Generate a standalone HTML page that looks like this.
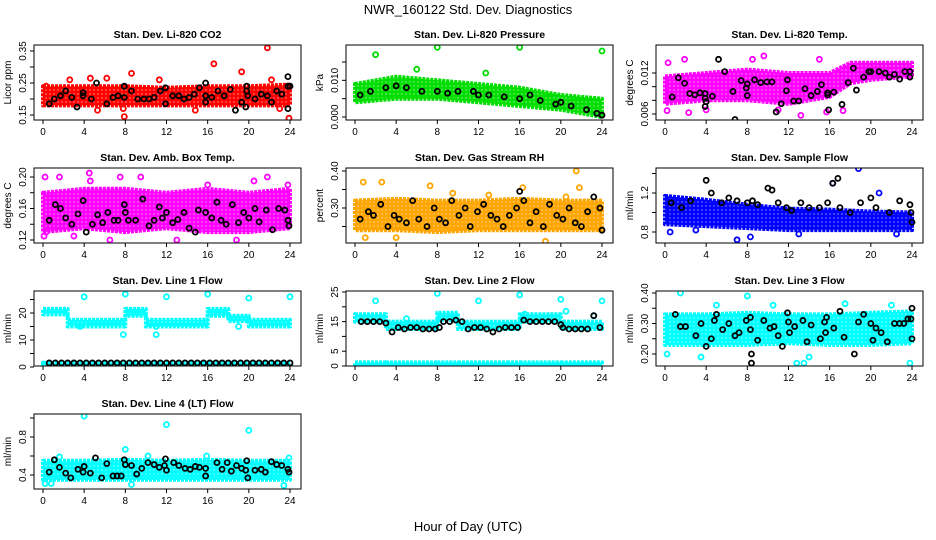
<!DOCTYPE html>
<html><head><meta charset="utf-8"><title>NWR_160122 Std. Dev. Diagnostics</title>
<style>
html,body{margin:0;padding:0;background:#fff;}
svg{display:block;font-family:"Liberation Sans",Arial,sans-serif;}
</style></head>
<body>
<svg id="chart" width="936" height="540" viewBox="0 0 936 540" xmlns="http://www.w3.org/2000/svg">
<rect x="0" y="0" width="936" height="540" fill="#fff"/>
<text x="468" y="14" text-anchor="middle" font-size="13">NWR_160122 Std. Dev. Diagnostics</text>
<text x="468" y="531" text-anchor="middle" font-size="13">Hour of Day (UTC)</text>
</svg>
<script>
const xTicks = [0,4,8,12,16,20,24];

// Panel 1: CO2
const p1BandHr = [0,4,8,12,16,20,24];
const p1BandLo = [0.18,0.18,0.18,0.18,0.18,0.18,0.18];
const p1BandHi = [0.24,0.24,0.24,0.235,0.24,0.24,0.245];
const p1Out = [[0.3,0.24],[2.6,0.26],[4.6,0.265],[6.2,0.265],[5.3,0.165],[7.9,0.145],[8.6,0.28],[16.6,0.31],[19.3,0.285],[21.8,0.36],[22.2,0.26],[23.9,0.14],[14.8,0.165],[23,0.17],[11.3,0.26],[7.8,0.17]];
const p1Blk = [[0.6,0.185],[1.1,0.2],[1.7,0.21],[2.2,0.225],[2.8,0.205],[3.3,0.175],[3.9,0.22],[3.9,0.21],[4.7,0.2],[5.2,0.25],[6.2,0.185],[6.8,0.205],[7.3,0.21],[7.9,0.24],[7.9,0.205],[8.6,0.225],[9.2,0.2],[9.8,0.2],[10.3,0.2],[10.8,0.205],[11.4,0.225],[11.9,0.185],[11.9,0.235],[12.6,0.21],[13.2,0.21],[13.7,0.2],[14.2,0.205],[14.7,0.215],[15.2,0.235],[15.8,0.25],[15.8,0.19],[15.8,0.21],[16.4,0.205],[17,0.225],[17.6,0.21],[18.2,0.23],[18.7,0.165],[19.3,0.19],[19.7,0.175],[19.8,0.225],[19.8,0.24],[19.9,0.21],[20.6,0.2],[21.2,0.215],[21.8,0.21],[22.2,0.19],[22.7,0.225],[23.2,0.215],[23.8,0.27],[23.8,0.24],[23.8,0.17],[24,0.24]];
const p1Ticks = [0.15,0.2,0.25,0.3,0.35];
const p1Labels = ["0.15","","0.25","","0.35"];

// Panel 2: Pressure
const p2BandHr = [0,4,8,12,16,20,24];
const p2BandLo = [0.004,0.005,0.005,0.004,0.003,0.002,0.0];
const p2BandHi = [0.009,0.011,0.010,0.009,0.008,0.006,0.005];
const p2Out = [[2,0.017],[8,0.019],[16,0.019],[24,0.018],[6,0.013],[12.7,0.012]];
const p2Blk = [[0.5,0.006],[1.5,0.007],[3,0.008],[4,0.0085],[5,0.008],[6.5,0.007],[8,0.007],[9,0.0065],[10,0.007],[11.5,0.007],[12,0.006],[13,0.006],[14.5,0.0055],[16,0.005],[17,0.006],[18,0.0045],[19.5,0.0035],[20,0.004],[21,0.003],[22.5,0.002],[23.5,0.001],[24,0.0005]];
const p2Ticks = [0,0.005,0.01,0.015];
const p2Labels = ["0.000","","0.010",""];

// Panel 3: Li-820 Temp
const p3BandHr = [0,4,8,12,16,18,20,24];
const p3BandLo = [0.0075,0.008,0.008,0.0075,0.0085,0.0105,0.011,0.0115];
const p3BandHi = [0.0115,0.012,0.0125,0.012,0.012,0.0135,0.0135,0.0135];
const p3Out = [[0.3,0.0135],[0.2,0.0065],[1.9,0.014],[9.6,0.0145],[15,0.014],[13.2,0.0058],[15.7,0.0063],[8.5,0.014],[4,0.0066],[17.3,0.0065],[2.3,0.0062],[11,0.0066]];
const p3Blk = [[0.7,0.0085],[1.3,0.0113],[1.9,0.0105],[2.4,0.009],[2.9,0.0088],[3.4,0.0091],[3.9,0.009],[3.9,0.0083],[4,0.0078],[3.9,0.0071],[4.6,0.0086],[5.2,0.014],[5.8,0.0122],[6.6,0.0093],[6.8,0.0052],[7.4,0.0109],[7.9,0.0098],[8,0.0104],[8,0.0087],[8.7,0.011],[9.3,0.0106],[9.9,0.0107],[10.4,0.0107],[10.8,0.0063],[11.3,0.0075],[11.8,0.0094],[11.9,0.011],[12.5,0.0079],[13,0.0079],[13.6,0.0097],[14.2,0.0087],[14.8,0.0093],[15.2,0.0103],[15.8,0.0091],[15.8,0.0088],[15.9,0.0066],[16.4,0.0092],[17.2,0.0074],[17.8,0.0106],[18.3,0.0127],[18.6,0.0095],[19.3,0.0114],[19.8,0.0122],[20,0.0122],[20.8,0.0122],[21.4,0.012],[21.8,0.0114],[22.3,0.0118],[22.8,0.0111],[23.3,0.0122],[23.8,0.0122],[23.8,0.0114]];
const p3Ticks = [0.006,0.008,0.01,0.012];
const p3Labels = ["0.006","","","0.012"];

// Panel 4: Amb Box Temp
const p4BandHr = [0,4,8,12,16,20,24];
const p4BandLo = [0.13,0.135,0.13,0.135,0.13,0.13,0.135];
const p4BandHi = [0.18,0.185,0.185,0.18,0.185,0.18,0.185];
const p4Out = [[0.2,0.2],[0.1,0.125],[0.3,0.13],[1.6,0.2],[3,0.125],[4.6,0.195],[4.5,0.205],[7.5,0.2],[11.7,0.22],[9.5,0.2],[18.8,0.12],[20.5,0.195],[21.8,0.2],[23.8,0.19],[16,0.19],[6.5,0.12],[13,0.12]];
const p4Blk = [[0.6,0.145],[1.2,0.165],[1.7,0.16],[2.2,0.148],[2.8,0.14],[3.4,0.153],[3.9,0.17],[4.2,0.13],[4.8,0.14],[5.3,0.152],[5.8,0.142],[6.3,0.155],[6.9,0.145],[7.3,0.145],[7.9,0.165],[8,0.155],[8.3,0.145],[9,0.145],[9.7,0.172],[10.3,0.138],[10.8,0.145],[11.3,0.162],[11.6,0.148],[12,0.155],[12.6,0.142],[13.1,0.146],[13.7,0.155],[14.2,0.135],[14.8,0.13],[15.1,0.158],[15.8,0.155],[16.4,0.148],[16.9,0.168],[17.3,0.145],[17.8,0.14],[18.4,0.165],[19,0.142],[19.5,0.155],[20,0.148],[20.6,0.16],[21,0.143],[21.7,0.158],[22.3,0.133],[22.9,0.16],[23.5,0.158],[23.8,0.145],[23.9,0.138]];
const p4Ticks = [0.12,0.14,0.16,0.18,0.2];
const p4Labels = ["0.12","","0.16","","0.20"];

// Panel 5: Gas Stream RH
const p5BandHr = [0,4,8,12,16,20,24];
const p5BandLo = [0.24,0.24,0.235,0.24,0.24,0.24,0.24];
const p5BandHi = [0.32,0.325,0.32,0.32,0.325,0.32,0.32];
const p5Out = [[0.8,0.37],[2.6,0.37],[7.3,0.36],[16.3,0.355],[18.5,0.21],[21.5,0.40],[21.8,0.355],[20.5,0.33],[1,0.22],[4,0.22],[9.5,0.34],[13,0.335]];
const p5Blk = [[0.5,0.27],[1.3,0.29],[1.8,0.28],[2.5,0.31],[3.2,0.25],[3.8,0.28],[4.3,0.27],[5,0.26],[5.6,0.32],[6.2,0.27],[7,0.25],[7.7,0.3],[8.2,0.27],[8.8,0.26],[9.4,0.32],[10.1,0.28],[10.7,0.3],[11.2,0.25],[11.9,0.29],[12.5,0.31],[13.2,0.28],[13.8,0.27],[14.4,0.25],[15,0.28],[15.7,0.3],[16,0.345],[16.4,0.32],[17,0.26],[17.6,0.29],[18.3,0.25],[18.9,0.31],[19.6,0.28],[20.2,0.27],[20.8,0.3],[21.4,0.26],[22,0.25],[22.6,0.29],[23.2,0.33],[23.8,0.3],[24,0.24]];
const p5Ticks = [0.2,0.25,0.3,0.35,0.4];
const p5Labels = ["0.20","","0.30","","0.40"];

// Panel 6: Sample Flow
const p6BandHr = [0,4,8,12,16,20,24];
const p6BandLo = [0.88,0.86,0.84,0.82,0.82,0.82,0.82];
const p6BandHi = [1.17,1.13,1.08,1.04,1.03,1.01,1.0];
const p6Out = [[3,0.82],[8.3,0.75],[7,0.72],[18.8,1.45],[16.3,1.3],[20.8,1.2],[0.5,0.8],[13,0.78],[22.5,0.78]];
const p6Blk = [[0.6,1.1],[1.6,1.05],[2.5,1.12],[4,1.33],[4.5,1.2],[5.5,1.1],[6.2,1.15],[7,1.12],[8,1.1],[8.5,1.12],[9,1.08],[10,1.25],[10.4,1.23],[11,1.1],[11.8,1.05],[12.3,1.02],[13.2,1.1],[14,1.05],[15,1.05],[15.8,1.1],[16.3,1.3],[16.8,1.35],[17,1.05],[18,1.0],[19,1.1],[20,1.15],[20.5,1.05],[21.8,1.0],[22.8,1.12],[23.8,1.08],[23.9,1.0],[24,0.9]];
const p6Ticks = [0.8,1.0,1.2,1.4];
const p6Labels = ["0.8","","1.2",""];

// Panel 7: Line 1 Flow
const p7BandHr = [0,2.4,2.4,8,8,10,10,16,16,18,18,20,20,24];
const p7BandLo = [19.5,19.5,15,15,19,19,15,15,19,19,17,17,15,15];
const p7BandHi = [21.5,21.5,17.5,17.5,21.5,21.5,17.5,17.5,21.5,21.5,19,19,17.5,17.5];
const p7ZeroLo = [0.8,0.8,0.8,0.8,0.8,0.8,0.8,0.8,0.8,0.8,0.8,0.8,0.8,0.8];
const p7ZeroHi = [1.6,1.6,1.6,1.6,1.6,1.6,1.6,1.6,1.6,1.6,1.6,1.6,1.6,1.6];
const p7Out = [[4,26],[8,27],[12,26],[16,27],[20,25.5],[24,26],[7.8,12],[11,12],[11,15],[3.6,15],[19,15]];
const p7Blk = [[0.6,1.5],[1.2,1.5],[1.8,1.5],[2.4,1.5],[3,1.5],[3.6,1.5],[4.2,1.5],[4.8,1.5],[5.4,1.5],[6,1.5],[6.6,1.5],[7.2,1.5],[7.8,1.5],[8.4,1.5],[9,1.5],[9.6,1.5],[10.2,1.5],[10.8,1.5],[11.4,1.5],[12,1.5],[12.6,1.5],[13.2,1.5],[13.8,1.5],[14.4,1.5],[15,1.5],[15.6,1.5],[16.2,1.5],[16.8,1.5],[17.4,1.5],[18,1.5],[18.6,1.5],[19.2,1.5],[19.8,1.5],[20.4,1.5],[21,1.5],[21.6,1.5],[22.2,1.5],[22.8,1.5],[23.4,1.5],[24,1.5]];
const p7Ticks = [0,5,10,15,20,25];
const p7Labels = ["0","","10","","20",""];

// Panel 8: Line 2 Flow
const p8BandHr = [0,3,3,8,8,10,10,16,16,20,20,24];
const p8BandLo = [15,15,12.5,12.5,15.5,15.5,12.5,12.5,15,15,12.5,12.5];
const p8BandHi = [17.5,17.5,15,15,18,18,15,15,17.5,17.5,15,15];
const p8ZeroLo = [0.2,0.2,0.2,0.2,0.2,0.2,0.2,0.2,0.2,0.2,0.2,0.2];
const p8ZeroHi = [1.2,1.2,1.2,1.2,1.2,1.2,1.2,1.2,1.2,1.2,1.2,1.2];
const p8Out = [[2,22],[8,24.5],[12,22],[16,24],[20,22.5],[24,22],[23.2,17],[20.5,18.5],[16.5,17.5],[5,16]];
const p8Blk = [[0.6,15],[1.2,15],[1.8,15],[2.4,15],[3,14.5],[3.6,11.5],[4.2,13],[4.8,12.5],[5.4,13],[6,13],[6.6,12.5],[7.2,12.5],[7.8,12.5],[8.2,13],[8.6,15],[9.2,15],[9.8,15.5],[10.4,15],[11,12.5],[11.6,13],[12.2,13],[12.8,12.5],[13.4,11.5],[14,12.5],[14.6,13],[15.2,13],[15.8,13],[16.4,15.5],[17,15],[17.6,15],[18.2,15],[18.8,15],[19.4,15],[20,14],[20.2,13],[20.8,12.5],[21.4,12.5],[22,12.5],[22.6,12.5],[23.2,17],[23.8,13]];
const p8Ticks = [0,5,10,15,20,25];
const p8Labels = ["0","5","","15","","25"];

// Panel 9: Line 3 Flow
const p9BandHr = [0,4,8,12,16,20,24];
const p9BandLo = [0.23,0.23,0.23,0.235,0.23,0.23,0.235];
const p9BandHi = [0.33,0.33,0.335,0.33,0.33,0.335,0.34];
const p9Out = [[1.5,0.40],[8,0.39],[13.5,0.17],[12.8,0.17],[23.8,0.17],[0.2,0.2],[3.5,0.19],[14,0.19],[5,0.36],[10.5,0.36],[17.5,0.365],[22,0.36]];
const p9Blk = [[1,0.33],[1.5,0.29],[2,0.29],[3,0.26],[3.5,0.3],[4,0.225],[4.5,0.25],[4.8,0.31],[5,0.33],[5.6,0.28],[6.2,0.3],[6.8,0.26],[7.2,0.27],[7.9,0.31],[8.3,0.32],[8.3,0.28],[8.4,0.2],[8.4,0.17],[9,0.245],[9.6,0.31],[10.2,0.285],[10.6,0.29],[11,0.26],[11.4,0.225],[11.9,0.335],[12,0.305],[12.1,0.27],[12.6,0.29],[13.4,0.31],[13.8,0.24],[14.2,0.295],[15.1,0.25],[15.5,0.305],[15.6,0.27],[15.7,0.32],[16.4,0.285],[17,0.34],[17.4,0.255],[18.4,0.2],[18.8,0.305],[19.3,0.33],[20,0.3],[20.2,0.245],[20.5,0.285],[21,0.27],[21.6,0.24],[22.3,0.3],[22.8,0.3],[23.2,0.3],[23.6,0.315],[23.9,0.315],[24,0.35],[24,0.25]];
const p9Ticks = [0.2,0.25,0.3,0.35,0.4];
const p9Labels = ["0.20","","0.30","","0.40"];

// Panel 10: Line 4 Flow
const p10BandHr = [0,4,8,12,16,20,24];
const p10BandLo = [0.35,0.35,0.35,0.35,0.35,0.35,0.35];
const p10BandHi = [0.55,0.55,0.56,0.55,0.56,0.55,0.55];
const p10Out = [[4,1.02],[12,0.93],[20,0.87],[8,0.67],[0.2,0.31],[23.4,0.29],[8.6,0.3],[1.6,0.59],[10.2,0.6],[15.9,0.6],[23.9,0.58],[0.8,0.31]];
const p10Blk = [[0.6,0.43],[1.1,0.56],[1.6,0.48],[2.2,0.42],[2.7,0.37],[3.4,0.46],[3.9,0.43],[4,0.49],[4.6,0.42],[5.1,0.58],[5.7,0.37],[6.2,0.52],[6.8,0.39],[7.2,0.39],[7.6,0.39],[7.9,0.56],[8,0.51],[8.6,0.5],[9.1,0.41],[9.6,0.47],[10.2,0.53],[10.8,0.51],[11.3,0.48],[11.8,0.5],[11.9,0.57],[12,0.45],[12.7,0.53],[13.2,0.5],[13.8,0.47],[14.3,0.46],[14.8,0.49],[15.2,0.48],[15.8,0.47],[15.8,0.39],[16.9,0.53],[17.4,0.46],[17.9,0.53],[18.3,0.44],[18.8,0.5],[19.3,0.47],[19.7,0.45],[19.8,0.55],[19.9,0.37],[20.6,0.45],[21.2,0.46],[21.6,0.43],[22.2,0.54],[22.7,0.51],[23.2,0.5],[23.8,0.46],[23.9,0.43]];
const p10Ticks = [0.4,0.6,0.8,1.0];
const p10Labels = ["0.4","","0.8",""];

const NS = "http://www.w3.org/2000/svg";
const svg = document.getElementById('chart');

function mk(tag, attrs, parent){
  const e = document.createElementNS(NS, tag);
  for (const k in attrs) e.setAttribute(k, attrs[k]);
  (parent||svg).appendChild(e);
  return e;
}

function drawPanel(p){
  const g = mk('g', {});
  
  
  const L = p.L, T = p.T, W = 267, H = 75, B = T + H;
  const xs = h => L + 9 + h * (247/24);
  const ys = v => p.y1 + (v - p.v1) * (p.y2 - p.y1) / (p.v2 - p.v1);
  const clip = 'clip-' + p.name;
  const cp = mk('clipPath', {id: clip}, g);
  mk('rect', {x: L, y: T, width: W, height: H}, cp);
  const pat = mk('pattern', {id: 'pat-' + p.name, width: 4, height: 4, patternUnits: 'userSpaceOnUse'}, g);
  mk('rect', {x: 0, y: 0, width: 4, height: 4, fill: p.color}, pat);
  mk('circle', {cx: 2, cy: 2, r: 0.7, fill: '#fff', 'fill-opacity': 0.6}, pat);
  const data = mk('g', {'clip-path': 'url(#' + clip + ')'}, g);
  function band(hr, lo, hi, nm){
    let d = '';
    for (let i = 0; i < hr.length; i++) d += (i ? 'L' : 'M') + xs(hr[i]).toFixed(1) + ',' + ys(hi[i]).toFixed(1);
    for (let i = hr.length - 1; i >= 0; i--) d += 'L' + xs(hr[i]).toFixed(1) + ',' + ys(lo[i]).toFixed(1);
    const b = mk('path', {d: d + 'Z', fill: 'url(#pat-' + p.name + ')', stroke: p.color, 'stroke-width': 4, 'stroke-linejoin': 'round', 'stroke-dasharray': '3 1'}, data);
    
    
  }
  band(p.bandHr, p.bandLo, p.bandHi, 'point-cloud');
  if (p.zeroLo) band(p.bandHr, p.zeroLo, p.zeroHi, 'zero-point-cloud');
  p.out.forEach(pt => {
    const c = mk('circle', {cx: xs(pt[0]), cy: ys(pt[1]), r: 2.5, fill: 'none', stroke: p.color, 'stroke-width': 1.8}, data);
    
    
  });
  p.blk.forEach(pt => {
    const c = mk('circle', {cx: xs(pt[0]), cy: ys(pt[1]), r: 2.5, fill: 'none', stroke: '#000', 'stroke-width': 1.8}, data);
    
    
  });
  const box = mk('rect', {x: L, y: T, width: W, height: H, fill: 'none', stroke: '#000', 'stroke-width': 1}, g);
  
  
  const t = mk('text', {x: L + W/2, y: T - 7, 'text-anchor': 'middle', 'font-size': 10.5, 'font-weight': 'bold'}, g);
  t.textContent = p.title;
  
  
  xTicks.forEach(h => {
    const x = xs(h);
    mk('line', {x1: x, x2: x, y1: B, y2: B + 4, stroke: '#000'}, g);
    const tl = mk('text', {x: x, y: B + 15, 'text-anchor': 'middle', 'font-size': 10}, g);
    tl.textContent = h;
    
    
  });
  p.ticks.forEach((v, i) => {
    const y = ys(v);
    if (y < T - 1 || y > B + 1) return;
    mk('line', {x1: L - 4, x2: L, y1: y, y2: y, stroke: '#000'}, g);
    if (p.labels[i]) {
      const tl = mk('text', {x: L - 8, y: y, 'text-anchor': 'middle', 'font-size': 10, transform: 'rotate(-90 ' + (L - 8) + ' ' + y + ')'}, g);
      tl.textContent = p.labels[i];
      
      
    }
  });
  const yl = mk('text', {x: L - 23, y: T + H/2, 'text-anchor': 'middle', 'font-size': 10, transform: 'rotate(-90 ' + (L - 23) + ' ' + (T + H/2) + ')'}, g);
  yl.textContent = p.ylab;
  
  
}

const panels = [
  {name:'panel-co2', title:'Stan. Dev. Li-820 CO2', ylab:'Licor ppm', L:34, T:45, v1:0.15, y1:115, v2:0.35, y2:51, color:'#ff0000', bandHr:p1BandHr, bandLo:p1BandLo, bandHi:p1BandHi, out:p1Out, blk:p1Blk, ticks:p1Ticks, labels:p1Labels},
  {name:'panel-pressure', title:'Stan. Dev. Li-820 Pressure', ylab:'kPa', L:346, T:45, v1:0, y1:117, v2:0.015, y2:62, color:'#00dd00', bandHr:p2BandHr, bandLo:p2BandLo, bandHi:p2BandHi, out:p2Out, blk:p2Blk, ticks:p2Ticks, labels:p2Labels},
  {name:'panel-li820-temp', title:'Stan. Dev. Li-820 Temp.', ylab:'degrees C', L:656, T:45, v1:0.006, y1:114, v2:0.012, y2:73, color:'#ff00ff', bandHr:p3BandHr, bandLo:p3BandLo, bandHi:p3BandHi, out:p3Out, blk:p3Blk, ticks:p3Ticks, labels:p3Labels},
  {name:'panel-box-temp', title:'Stan. Dev. Amb. Box Temp.', ylab:'degrees C', L:34, T:168, v1:0.12, y1:240, v2:0.20, y2:177, color:'#ff00ff', bandHr:p4BandHr, bandLo:p4BandLo, bandHi:p4BandHi, out:p4Out, blk:p4Blk, ticks:p4Ticks, labels:p4Labels},
  {name:'panel-rh', title:'Stan. Dev. Gas Stream RH', ylab:'percent', L:346, T:168, v1:0.20, y1:245, v2:0.40, y2:171, color:'#ffa500', bandHr:p5BandHr, bandLo:p5BandLo, bandHi:p5BandHi, out:p5Out, blk:p5Blk, ticks:p5Ticks, labels:p5Labels},
  {name:'panel-sample-flow', title:'Stan. Dev. Sample Flow', ylab:'ml/min', L:656, T:168, v1:0.8, y1:232, v2:1.2, y2:193, color:'#0000ff', bandHr:p6BandHr, bandLo:p6BandLo, bandHi:p6BandHi, out:p6Out, blk:p6Blk, ticks:p6Ticks, labels:p6Labels},
  {name:'panel-line1', title:'Stan. Dev. Line 1 Flow', ylab:'ml/min', L:34, T:291, v1:0, y1:367, v2:20, y2:313, color:'#00ffff', bandHr:p7BandHr, bandLo:p7BandLo, bandHi:p7BandHi, zeroLo:p7ZeroLo, zeroHi:p7ZeroHi, out:p7Out, blk:p7Blk, ticks:p7Ticks, labels:p7Labels},
  {name:'panel-line2', title:'Stan. Dev. Line 2 Flow', ylab:'ml/min', L:346, T:291, v1:0, y1:366, v2:25, y2:292, color:'#00ffff', bandHr:p8BandHr, bandLo:p8BandLo, bandHi:p8BandHi, zeroLo:p8ZeroLo, zeroHi:p8ZeroHi, out:p8Out, blk:p8Blk, ticks:p8Ticks, labels:p8Labels},
  {name:'panel-line3', title:'Stan. Dev. Line 3 Flow', ylab:'ml/min', L:656, T:291, v1:0.20, y1:354, v2:0.40, y2:293, color:'#00ffff', bandHr:p9BandHr, bandLo:p9BandLo, bandHi:p9BandHi, out:p9Out, blk:p9Blk, ticks:p9Ticks, labels:p9Labels},
  {name:'panel-line4', title:'Stan. Dev. Line 4 (LT) Flow', ylab:'ml/min', L:34, T:414, v1:0.4, y1:475, v2:0.8, y2:437, color:'#00ffff', bandHr:p10BandHr, bandLo:p10BandLo, bandHi:p10BandHi, out:p10Out, blk:p10Blk, ticks:p10Ticks, labels:p10Labels}
];
panels.forEach(drawPanel);
</script>
</body></html>
